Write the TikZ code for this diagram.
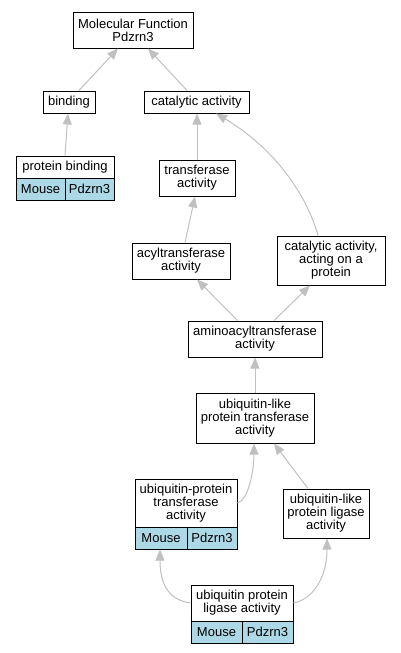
\documentclass[tikz,border=0pt]{standalone}
\usepackage{fontspec}
\setmainfont{Liberation Sans}
\usetikzlibrary{arrows.meta}
\definecolor{edgegray}{HTML}{C0C0C0}
\definecolor{cellblue}{HTML}{ADD8E6}
\begin{document}
\begin{tikzpicture}[x=1pt,y=-1pt,
  box/.style={draw=black, line width=1pt, fill=white, inner sep=0pt, align=center,
    font=\fontsize{13}{13}\selectfont},
  cell/.style={box, fill=cellblue, minimum height=22pt},
  edge/.style={draw=edgegray, line width=1pt, -{Triangle[length=11pt,width=9pt]}}]
\useasboundingbox (0,0) rectangle (400,653);
% nodes
\node[box, minimum width=120pt, minimum height=36pt] (mf) at (133,30) {Molecular Function\\Pdzrn3};
\node[box, minimum width=52pt, minimum height=22pt] (bind) at (69,102) {binding};
\node[box, minimum width=105pt, minimum height=22pt] (cat) at (196.5,102) {catalytic activity};
\node[box, minimum width=98pt, minimum height=22pt] (pb) at (65,167) {protein binding};
\node[cell, minimum width=49pt] (pbm) at (40.5,189) {Mouse};
\node[cell, minimum width=49pt] (pbp) at (89.5,189) {Pdzrn3};
\node[box, minimum width=76pt, minimum height=36pt] (trans) at (197,178) {transferase\\activity};
\node[box, minimum width=98pt, minimum height=36pt] (acyl) at (181,261) {acyltransferase\\activity};
\node[box, minimum width=108pt, minimum height=49pt] (catp) at (331,260.5) {catalytic activity,\\acting on a\\protein};
\node[box, minimum width=134pt, minimum height=36pt] (amino) at (255,339) {aminoacyltransferase\\activity};
\node[box, minimum width=118pt, minimum height=50pt] (ublt) at (255,418) {ubiquitin-like\\protein transferase\\activity};
\node[box, minimum width=102pt, minimum height=48pt] (upt) at (186,503) {ubiquitin-protein\\transferase\\activity};
\node[cell, minimum width=52pt] (uptm) at (161,538) {Mouse};
\node[cell, minimum width=50pt] (uptp) at (212,538) {Pdzrn3};
\node[box, minimum width=86pt, minimum height=49pt] (ubll) at (326,513.5) {ubiquitin-like\\protein ligase\\activity};
\node[box, minimum width=102pt, minimum height=36pt] (upl) at (242,603) {ubiquitin protein\\ligase activity};
\node[cell, minimum width=51pt] (uplm) at (216.5,632) {Mouse};
\node[cell, minimum width=51pt] (uplp) at (267.5,632) {Pdzrn3};
% edges
\draw[edge] ([xshift=10pt]bind.north) -- ([xshift=-15pt]mf.south);
\draw[edge] ([xshift=-9.5pt]cat.north) -- ([xshift=15pt]mf.south);
\draw[edge] (pb.north) -- ([xshift=-1pt]bind.south);
\draw[edge] (trans.north) -- ([xshift=0.5pt]cat.south);
\draw[edge] ([xshift=-13pt]catp.north) .. controls +(-13,-46) and +(54,32) .. ([xshift=19.5pt]cat.south);
\draw[edge] ([xshift=4pt]acyl.north) -- ([xshift=-2pt]trans.south);
\draw[edge] ([xshift=-17.5pt]amino.north) -- ([xshift=16pt]acyl.south);
\draw[edge] ([xshift=19pt]amino.north) -- ([xshift=-21pt]catp.south);
\draw[edge] (ublt.north) -- (amino.south);
\draw[edge] (upt.east) .. controls +(11,-3) and +(0,27) .. ([xshift=-1pt]ublt.south);
\draw[edge] ([xshift=-18pt]ubll.north) -- ([xshift=19pt]ublt.south);
\draw[edge] (upl.west) .. controls +(-21,-3) and +(0,36) .. ([xshift=-1pt]uptm.south);
\draw[edge] (upl.east) .. controls +(17,-3) and +(0,42) .. ([xshift=1pt]ubll.south);
\end{tikzpicture}
\end{document}
